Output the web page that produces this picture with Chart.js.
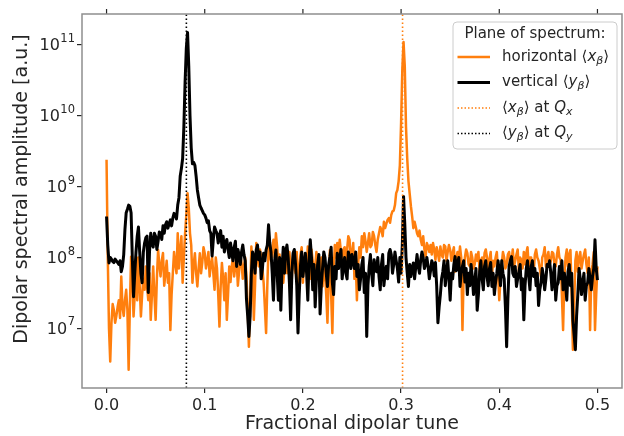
<!DOCTYPE html>
<html>
<head>
<meta charset="utf-8">
<script src="https://cdn.jsdelivr.net/npm/chart.js@4/dist/chart.umd.min.js"></script>
<style>
  html, body { margin: 0; padding: 0; background: #fff; }
  #wrap { width: 624px; height: 436px; }
</style>
</head>
<body>
<div id="wrap"><canvas id="spectrum" width="624" height="436"></canvas></div>
<script>
// spectrum grid: fractional tune 0 .. 0.5
const TUNE_STEP = 0.00125;
const Q_X = 0.3015;
const Q_Y = 0.0813;
const X_TICKS = [0, 0.1, 0.2, 0.3, 0.4, 0.5];
const Y_TICKS = [1e7, 1e8, 1e9, 1e10, 1e11];
const X_RANGE = [-0.025, 0.525];
const Y_RANGE = [1.44e6, 2.74e11];

// horizontal <x_beta> spectrum (orange)
const horizontalAmp = [
  2.4e9, 1e8, 1e7, 3.4e6, 1.2e7, 2.2e7, 1.8e7, 1.2e7, 1.5e7, 2e7,
  2.5e7, 1.4e7, 5.4e7, 2e7, 1.5e7, 2.5e7, 3.5e7, 1.8e7, 2.6e6, 2e7,
  1.03e8, 5e7, 1.47e7, 3e7, 1.03e8, 2.5e7, 1e8, 4e7, 1.47e7, 3e7,
  5e7, 3.5e7, 7.5e7, 4e7, 2.5e7, 6e7, 1.32e7, 3e7, 7.5e7, 3e7,
  1.32e7, 5e7, 1.28e8, 8e7, 5.4e7, 9e7, 1.16e8, 4e7, 6e7, 9e7,
  4.4e7, 6e7, 9.5e6, 3e7, 6e7, 1.2e8, 8e7, 6e7, 2.2e8, 7e7,
  1.3e8, 2e8, 4.4e7, 1e8, 2.2e8, 4e8, 8.1e8, 5e8, 2.2e8, 1.5e8,
  4.4e7, 8e7, 1.15e8, 6e7, 3.9e7, 7e7, 1.15e8, 6e7, 8.5e7, 1.4e8,
  1.15e8, 7e7, 9e7, 1.2e8, 5.4e7, 8e7, 1e8, 6e7, 3.5e7, 1e8,
  7e7, 3e7, 1.06e7, 4e7, 8.4e7, 5e7, 2.5e7, 6e7, 1.32e7, 3e7,
  7.5e7, 4.5e7, 7.5e7, 1e8, 5.4e7, 8e7, 9.3e7, 4e7, 6.3e7, 1.1e8,
  8.4e7, 5e7, 7.5e7, 1e8, 5.4e7, 2e7, 5.5e6, 2.5e7, 1.43e8, 7e7,
  1.32e7, 4e7, 1.6e8, 1e8, 7.5e7, 1.3e8, 1e8, 7e7, 4.4e7, 2e7,
  8.6e6, 4e7, 1.4e8, 1.1e8, 9e7, 1.3e8, 1.78e8, 1e8, 2.2e8, 1.4e8,
  7.5e7, 1.1e8, 3.9e7, 9e7, 4.4e7, 7e7, 1e8, 6e7, 7.5e7, 1.2e8,
  7.5e7, 5e7, 1.1e8, 8e7, 6e7, 1.2e8, 3.5e7, 7e7, 1.1e8, 1.4e8,
  4.4e7, 9e7, 1.1e8, 7e7, 1.43e8, 1e8, 5e7, 1.3e8, 9e7, 6e7,
  7.5e7, 1.2e8, 9e7, 5e7, 6e7, 1e8, 3.9e7, 8e7, 6e7, 3e7,
  1.2e7, 5e7, 1.28e8, 3e7, 8.6e6, 6e7, 1.5e8, 1e8, 1.6e8, 1.1e8,
  1.78e8, 1.2e8, 7.5e7, 1.3e8, 1.4e8, 8e7, 1.3e8, 2e8, 1.78e8, 9e7,
  1.15e8, 1.6e8, 5e7, 9e7, 2.5e7, 8e7, 1.4e8, 1e8, 2e8, 1.4e8,
  2.2e8, 1.7e8, 1.2e8, 1.6e8, 2.2e8, 1.4e8, 1.5e8, 2.3e8, 2e8, 1.5e8,
  1.2e8, 1.8e8, 2.2e8, 2.7e8, 2.46e8, 2e8, 3.2e8, 2.6e8, 3e8, 3.4e8,
  3.6e8, 3.1e8, 4e8, 4.5e8, 4.6e8, 5.5e8, 8.1e8, 9e8, 1.2e9, 2e9,
  8e9, 4.5e10, 1.1e11, 5e10, 7e9, 2.5e9, 1.2e9, 8e8, 5.3e8, 3.8e8,
  2.6e8, 3.2e8, 2.7e8, 2.2e8, 2e8, 2.4e8, 1.78e8, 1.5e8, 2e8, 1.3e8,
  1.03e8, 1.6e8, 1.43e8, 1.2e8, 1.5e8, 1.1e8, 1.6e8, 1.3e8, 9.3e7, 1.4e8,
  1.15e8, 9e7, 1.43e8, 1.1e8, 1e8, 1.5e8, 1.43e8, 9e7, 1.2e8, 1.5e8,
  1.28e8, 9e7, 1.15e8, 1.4e8, 6.3e7, 1e8, 1.2e8, 9e7, 1.43e8, 1e8,
  9.5e6, 6e7, 1e8, 1.3e8, 1.15e8, 8e7, 7.5e7, 1.2e8, 1e8, 7e7,
  8e7, 1.1e8, 9e7, 1.2e8, 6.3e7, 9e7, 1e8, 7e7, 1.15e8, 1.3e8,
  1e8, 7e7, 9.3e7, 1.2e8, 5.4e7, 9e7, 7.5e7, 1e8, 1.2e8, 6e7,
  2.5e7, 5e7, 8e7, 1.2e8, 1e8, 7e7, 8e7, 1.1e8, 1.2e8, 8e7,
  9e7, 1.3e8, 7.5e7, 9e7, 1.1e8, 1.3e8, 6.3e7, 1e8, 9.3e7, 7e7,
  1.2e8, 8e7, 1.15e8, 1.4e8, 7.5e7, 1e8, 1e8, 7e7, 6e7, 1.1e8,
  1.3e8, 1e8, 9e7, 7e7, 5.4e7, 1e8, 1.1e8, 1.4e8, 7.5e7, 1e8,
  1.2e8, 8e7, 9e7, 1.2e8, 1.15e8, 8e7, 7.5e7, 1.1e8, 1.4e8, 1e8,
  9.3e7, 3e7, 9.5e6, 5e7, 1e8, 1.3e8, 7.5e7, 1.1e8, 1.28e8, 3e7,
  5e6, 2e7, 9e7, 1.2e8, 6.3e7, 1e8, 1.2e8, 7e7, 9e7, 1.1e8,
  1.3e8, 8e7, 6e7, 1e8, 9.5e6, 6e7, 8e7, 1.2e8, 9.5e6, 3e7,
  7.5e7
];

// vertical <y_beta> spectrum (black)
const verticalAmp = [
  3.8e8, 1.5e8, 8.4e7, 1e8, 9.5e7, 8.8e7, 8.5e7, 9.5e7, 9e7, 8.5e7,
  8e7, 9e7, 6.3e7, 7.5e7, 1.1e8, 2.5e8, 4.3e8, 4.8e8, 5.5e8, 5.3e8,
  4.3e8, 1e8, 2.8e7, 6e7, 1.2e8, 2e8, 2.7e8, 1.2e8, 6e7, 4.4e7,
  1.2e8, 1.6e8, 1.9e8, 2e8, 3.2e7, 1.2e8, 2.2e8, 1.6e8, 1.4e8, 2.2e8,
  2e8, 1.3e8, 1.7e8, 2.3e8, 2.2e8, 1.8e8, 2.8e8, 2.2e8, 2.9e8, 3.2e8,
  2.6e8, 3e8, 3.4e8, 2.8e8, 3.6e8, 4.2e8, 4e8, 3.5e8, 5.5e8, 7e8,
  1.4e9, 1.8e9, 2.5e9, 7e9, 3e10, 9e10, 1.5e11, 5e10, 1e10, 3.5e9,
  2.1e9, 2.2e9, 2.0e9, 1.4e9, 9e8, 7e8, 5.5e8, 5e8, 4.6e8, 4.2e8,
  4e8, 3.6e8, 3.1e8, 3.3e8, 2.4e8, 2.2e8, 1.05e8, 1.8e8, 2.7e8, 2.4e8,
  2.2e8, 1.6e8, 2e8, 2.4e8, 1.4e8, 2e8, 1.2e8, 1.6e8, 1.8e8, 1.3e8,
  1e8, 1.6e8, 1.2e8, 9e7, 1.4e8, 1.7e8, 7.5e7, 1.3e8, 1.1e8, 8e7,
  1.2e8, 1.5e8, 1.1e8, 9e7, 2.6e7, 1.5e7, 7.7e6, 1.5e7, 6e7, 1.2e8,
  1.03e8, 6e7, 1.28e8, 1.5e8, 9.3e7, 1.2e8, 5e7, 7e7, 1.15e8, 9e7,
  1.28e8, 1.5e8, 2.9e8, 1.6e8, 1.2e8, 6e7, 2.5e7, 9e7, 1.28e8, 6e7,
  2.5e7, 1e8, 1.8e7, 7e7, 1.4e8, 6e7, 1.2e8, 1.5e8, 1e8, 4.4e7,
  1.32e7, 6e7, 1.15e8, 1.3e8, 8e7, 4e7, 8.6e6, 3e7, 7.5e7, 1.2e8,
  5.4e7, 8e7, 1.15e8, 6e7, 2.5e7, 9e7, 1.78e8, 1e8, 3.5e7, 8e7,
  2e7, 5e7, 8e7, 1.1e8, 1.6e7, 4e7, 7e7, 1.2e8, 1e8, 6e7,
  3.9e7, 8e7, 1.03e8, 1.4e8, 4.4e7, 3e7, 7.5e7, 5e7, 1.15e8, 7e7,
  9.3e7, 1.3e8, 5e7, 8e7, 1e8, 6e7, 5e7, 1.2e8, 1.03e8, 7e7,
  1.1e8, 9e7, 7e7, 1.2e8, 5.4e7, 8e7, 3.5e7, 5e7, 8e7, 1e8,
  3.2e7, 6e7, 7.7e6, 4e7, 7.5e7, 1.1e8, 6e7, 4e7, 9.3e7, 7e7,
  6.3e7, 1e8, 5.4e7, 3.5e7, 8e7, 1.1e8, 4e7, 6e7, 7.5e7, 5e7,
  1.15e8, 1.3e8, 1.1e8, 6e7, 8e7, 1.2e8, 9e7, 7e7, 4.5e7, 1e8,
  6e7, 1.5e8, 7.3e8, 3e8, 1e8, 6e7, 3.9e7, 8e7, 5.4e7, 7e7,
  8.4e7, 5e7, 7.5e7, 1.1e8, 7.5e7, 6e7, 9.3e7, 1.2e8, 1e8, 7e7,
  8e7, 1e8, 7.5e7, 5e7, 6.5e7, 9e7, 8e7, 5.5e7, 8.5e7, 4e7,
  1.2e7, 2e7, 3e7, 5e7, 6.3e7, 9e7, 4e7, 6e7, 9e7, 5e7,
  2.5e7, 6e7, 5e7, 8e7, 1.03e8, 6.5e7, 8e7, 1e8, 3.9e7, 6e7,
  7.5e7, 9e7, 4.5e7, 7e7, 3e7, 6e7, 4e7, 8e7, 5.4e7, 3e7,
  4.4e7, 7e7, 1.8e7, 3e7, 6.3e7, 9e7, 5e7, 3.5e7, 7.5e7, 9e7,
  5.4e7, 4e7, 7e7, 8.5e7, 3.9e7, 6e7, 3e7, 4.5e7, 6e7, 9e7,
  6.3e7, 4e7, 9e7, 6e7, 5e7, 2e7, 5.5e6, 2.5e7, 7.5e7, 9e7,
  1.03e8, 6e7, 5.4e7, 7.5e7, 3.9e7, 5e7, 6.3e7, 8e7, 3.5e7, 5e7,
  1.32e7, 4e7, 7e7, 9e7, 5.4e7, 3.5e7, 7.5e7, 9e7, 5.4e7, 7e7,
  4e7, 6e7, 2.1e7, 3.5e7, 4.4e7, 7e7, 5.4e7, 3.5e7, 5e7, 8e7,
  7.5e7, 9e7, 6e7, 3.5e7, 5.4e7, 8e7, 2.5e7, 4e7, 4.4e7, 7.5e7,
  5e7, 9e7, 3.5e7, 6e7, 4.4e7, 2.5e7, 6.3e7, 8e7, 4e7, 6e7,
  1.3e7, 8e6, 5e6, 1.5e7, 3e7, 7e7, 5e7, 3e7, 4.4e7, 6e7,
  2.5e7, 4e7, 4.4e7, 7e7, 5e7, 3.5e7, 5.4e7, 7e7, 1.78e8, 7e7,
  4.8e7
];

const ORANGE = '#ff7f0e';
const TEXT = '#262626';
const FONT = "'DejaVu Sans', sans-serif";

const tunes = verticalAmp.map((_, i) => +(i * TUNE_STEP).toFixed(5));
const toPoints = (vals) => vals.map((v, i) => ({ x: tunes[i], y: v }));
const vline = (q) => [{ x: q, y: Y_RANGE[0] }, { x: q, y: Y_RANGE[1] }];

const LEGEND_ITEMS = [
  { color: ORANGE, width: 2.5, dash: [], parts: [['horizontal ⟨', 'n'], ['x', 'i'], ['β', 's'], ['⟩', 'n']] },
  { color: '#000', width: 3, dash: [], parts: [['vertical ⟨', 'n'], ['y', 'i'], ['β', 's'], ['⟩', 'n']] },
  { color: ORANGE, width: 1.6, dash: [1.5, 2], parts: [['⟨', 'n'], ['x', 'i'], ['β', 's'], ['⟩ at ', 'n'], ['Q', 'i'], ['x', 's']] },
  { color: '#000', width: 1.6, dash: [1.5, 2], parts: [['⟨', 'n'], ['y', 'i'], ['β', 's'], ['⟩ at ', 'n'], ['Q', 'i'], ['y', 's']] },
];

function drawRich(ctx, parts, x, y, size) {
  parts.forEach(([text, style]) => {
    let dy = 0;
    ctx.font = `${size}px ${FONT}`;
    if (style === 'i') ctx.font = `italic ${size}px ${FONT}`;
    if (style === 's') { ctx.font = `italic ${Math.round(size * 0.7)}px ${FONT}`; dy = size * 0.25; }
    ctx.fillText(text, x, y + dy);
    x += ctx.measureText(text).width;
  });
}

// frame, top ticks, y tick labels, y label, legend
const decorPlugin = {
  id: 'decor',
  afterDraw(chart) {
    const { ctx, chartArea: a, scales: { x, y } } = chart;
    ctx.save();

    ctx.strokeStyle = TEXT;
    ctx.lineWidth = 1.2;
    X_TICKS.forEach((v) => {
      const px = x.getPixelForValue(v);
      ctx.beginPath();
      ctx.moveTo(px, a.top);
      ctx.lineTo(px, a.top - 5);
      ctx.stroke();
    });

    ctx.strokeStyle = '#8e8e8e';
    ctx.lineWidth = 1.5;
    ctx.strokeRect(a.left, a.top, a.right - a.left, a.bottom - a.top);

    // y tick labels 10^n
    ctx.fillStyle = TEXT;
    ctx.textAlign = 'right';
    ctx.textBaseline = 'middle';
    Y_TICKS.forEach((v) => {
      const py = y.getPixelForValue(v);
      const exp = String(Math.round(Math.log10(v)));
      const right = a.left - 7;
      ctx.font = `11.5px ${FONT}`;
      ctx.fillText(exp, right, py - 6);
      const ew = ctx.measureText(exp).width;
      ctx.font = `16px ${FONT}`;
      ctx.fillText('10', right - ew - 0.5, py + 1);
    });

    // y axis label
    ctx.font = `19px ${FONT}`;
    ctx.textAlign = 'center';
    ctx.translate(22, 189);
    ctx.rotate(-Math.PI / 2);
    ctx.fillText('Dipolar spectral amplitude [a.u.]', 0, 0);
    ctx.setTransform(1, 0, 0, 1, 0, 0);

    // legend box
    const bx = a.right - 169, by = a.top + 8, bw = 164, bh = 127;
    ctx.beginPath();
    ctx.roundRect(bx, by, bw, bh, 4);
    ctx.fillStyle = 'rgba(255,255,255,0.8)';
    ctx.fill();
    ctx.strokeStyle = '#cccccc';
    ctx.lineWidth = 1;
    ctx.stroke();

    ctx.fillStyle = TEXT;
    ctx.font = `15px ${FONT}`;
    ctx.textAlign = 'center';
    ctx.fillText('Plane of spectrum:', bx + bw / 2, by + 12);

    ctx.textAlign = 'left';
    LEGEND_ITEMS.forEach((it, i) => {
      const ry = by + 35 + i * 25.5;
      ctx.strokeStyle = it.color;
      ctx.lineWidth = it.width;
      ctx.setLineDash(it.dash);
      ctx.beginPath();
      ctx.moveTo(bx + 4.5, ry);
      ctx.lineTo(bx + 37, ry);
      ctx.stroke();
      ctx.setLineDash([]);
      ctx.fillStyle = TEXT;
      drawRich(ctx, it.parts, bx + 49, ry, 15);
    });
    ctx.restore();
  }
};

const lineStyle = { pointRadius: 0, tension: 0, fill: false, borderJoinStyle: 'round' };

new Chart(document.getElementById('spectrum').getContext('2d'), {
  type: 'line',
  data: {
    datasets: [
      { label: 'horizontal', data: toPoints(horizontalAmp), borderColor: ORANGE, borderWidth: 2.5, order: 3, ...lineStyle },
      { label: 'vertical', data: toPoints(verticalAmp), borderColor: '#000000', borderWidth: 3, order: 2, ...lineStyle },
      { label: 'Qx', data: vline(Q_X), borderColor: ORANGE, borderWidth: 1.6, borderDash: [1.5, 2.5], order: 1, ...lineStyle },
      { label: 'Qy', data: vline(Q_Y), borderColor: '#000000', borderWidth: 1.6, borderDash: [1.5, 2.5], order: 1, ...lineStyle },
    ],
  },
  options: {
    responsive: false,
    animation: false,
    devicePixelRatio: 1,
    layout: { padding: { top: 14, right: 2, left: 0, bottom: 0 } },
    plugins: { legend: { display: false }, tooltip: { enabled: false } },
    scales: {
      x: {
        type: 'linear',
        min: X_RANGE[0],
        max: X_RANGE[1],
        afterBuildTicks: (s) => { s.ticks = X_TICKS.map((v) => ({ value: v })); },
        afterFit: (s) => { s.height = 48; },
        ticks: { callback: (v) => v.toFixed(1), color: TEXT, font: { family: FONT, size: 16 }, padding: 3, maxRotation: 0, autoSkip: false },
        grid: { drawOnChartArea: false, drawTicks: true, tickLength: 5, color: TEXT, lineWidth: 1.2 },
        border: { display: false },
        title: { display: true, text: 'Fractional dipolar tune', color: TEXT, font: { family: FONT, size: 19 }, padding: { top: 0, bottom: 1 } },
      },
      y: {
        type: 'logarithmic',
        min: Y_RANGE[0],
        max: Y_RANGE[1],
        afterBuildTicks: (s) => { s.ticks = Y_TICKS.map((v) => ({ value: v })); },
        afterFit: (s) => { s.width = 82; },
        ticks: { display: false },
        grid: { drawOnChartArea: false, drawTicks: true, tickLength: 5, color: TEXT, lineWidth: 1.2 },
        border: { display: false },
      },
    },
  },
  plugins: [decorPlugin],
});
</script>
</body>
</html>
